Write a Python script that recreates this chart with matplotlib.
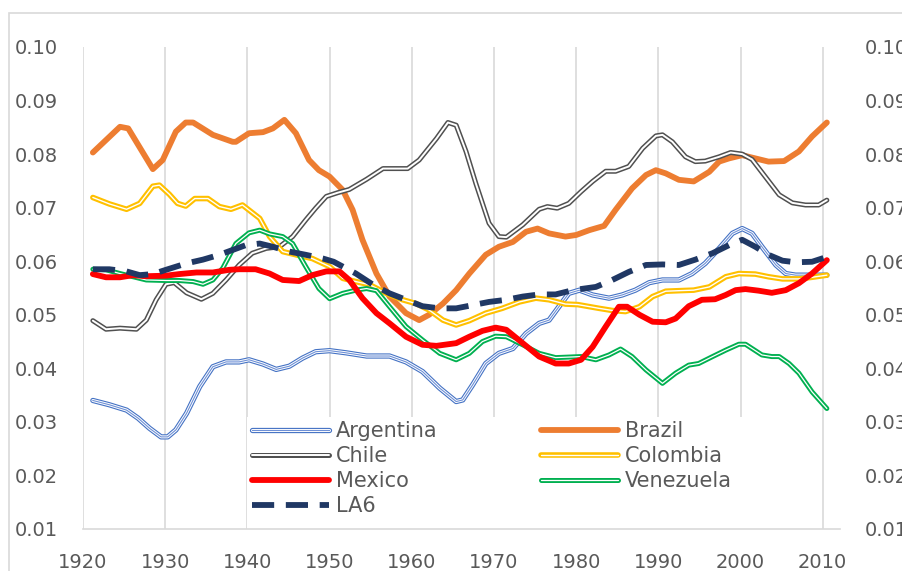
import matplotlib.pyplot as plt
from matplotlib.patches import Rectangle

# data (year, value)
arg_yr = [1921.2, 1923.2, 1925.3, 1926.7, 1928.1, 1929.5, 1930.3, 1931.3, 1932.6, 1934.2, 1935.8, 1937.4,
          1939.0, 1940.2, 1941.9, 1943.5, 1945.1, 1946.7, 1948.3, 1950.0, 1952.0, 1954.5, 1957.3, 1959.3,
          1961.3, 1963.4, 1965.4, 1966.2, 1967.4, 1969.0, 1970.6, 1972.3, 1973.9, 1975.5, 1976.7, 1977.9,
          1979.1, 1980.4, 1982.0, 1984.0, 1985.6, 1987.2, 1988.9, 1990.5, 1992.5, 1994.1, 1995.7, 1997.4,
          1999.0, 2000.2, 2001.4, 2002.6, 2004.3, 2005.5, 2006.7, 2008.7, 2010.5]
arg_val = [0.0340, 0.0332, 0.0322, 0.0307, 0.0288, 0.0272, 0.0272, 0.0285, 0.0316, 0.0366, 0.0403, 0.0412,
           0.0412, 0.0416, 0.0408, 0.0398, 0.0404, 0.0419, 0.0431, 0.0433, 0.0429, 0.0423, 0.0423, 0.0412,
           0.0394, 0.0363, 0.0338, 0.0341, 0.0369, 0.0409, 0.0428, 0.0437, 0.0465, 0.0484, 0.0490, 0.0515,
           0.0540, 0.0546, 0.0537, 0.0531, 0.0537, 0.0546, 0.0560, 0.0565, 0.0565, 0.0577, 0.0596, 0.0624,
           0.0652, 0.0661, 0.0652, 0.0627, 0.0593, 0.0577, 0.0574, 0.0574, 0.0574]

bra_yr = [1921.2, 1924.5, 1925.5, 1928.5, 1929.7, 1931.3, 1932.5, 1933.4, 1935.8, 1938.2, 1938.6, 1940.2,
          1941.9, 1943.1, 1944.5, 1945.9, 1947.5, 1948.7, 1950.0, 1951.6, 1952.8, 1954.0, 1955.7, 1957.3,
          1959.3, 1960.9, 1962.1, 1963.8, 1965.4, 1967.0, 1969.0, 1970.6, 1972.3, 1973.9, 1975.3, 1976.7,
          1978.7, 1980.0, 1981.6, 1983.4, 1984.8, 1986.8, 1988.5, 1989.7, 1990.9, 1992.5, 1994.3, 1996.2,
          1997.4, 1998.6, 2000.2, 2001.8, 2003.4, 2005.3, 2007.1, 2008.7, 2010.5]
bra_val = [0.0803, 0.0851, 0.0848, 0.0772, 0.0789, 0.0842, 0.0859, 0.0859, 0.0836, 0.0823, 0.0823, 0.0839,
           0.0841, 0.0848, 0.0864, 0.0839, 0.0789, 0.0770, 0.0758, 0.0733, 0.0696, 0.0640, 0.0577, 0.0534,
           0.0503, 0.0490, 0.0500, 0.0521, 0.0546, 0.0577, 0.0612, 0.0627, 0.0636, 0.0655, 0.0661, 0.0652,
           0.0646, 0.0649, 0.0658, 0.0666, 0.0696, 0.0736, 0.0761, 0.0770, 0.0764, 0.0752, 0.0749, 0.0767,
           0.0786, 0.0792, 0.0798, 0.0792, 0.0786, 0.0787, 0.0805, 0.0833, 0.0859]

chi_yr = [1921.2, 1922.8, 1924.5, 1926.5, 1927.7, 1928.9, 1930.1, 1931.1, 1932.6, 1934.4, 1935.8, 1937.4,
          1939.0, 1940.6, 1942.3, 1943.9, 1945.5, 1947.1, 1948.3, 1949.6, 1951.0, 1952.4, 1954.5, 1956.5,
          1958.1, 1959.5, 1960.9, 1963.0, 1964.4, 1965.4, 1966.6, 1967.8, 1969.4, 1970.6, 1971.5, 1973.5,
          1975.5, 1976.5, 1977.7, 1979.1, 1980.6, 1982.0, 1983.6, 1984.8, 1986.4, 1988.1, 1989.7, 1990.5,
          1991.7, 1993.3, 1994.5, 1995.7, 1997.4, 1998.8, 2000.2, 2001.4, 2003.0, 2004.7, 2006.3, 2007.9,
          2009.5, 2010.5]
chi_val = [0.0489, 0.0473, 0.0475, 0.0473, 0.0490, 0.0528, 0.0557, 0.0560, 0.0541, 0.0529, 0.0540, 0.0565,
           0.0593, 0.0615, 0.0624, 0.0627, 0.0646, 0.0677, 0.0699, 0.0721, 0.0728, 0.0734, 0.0753, 0.0773,
           0.0773, 0.0773, 0.0789, 0.0829, 0.0859, 0.0854, 0.0805, 0.0745, 0.0671, 0.0646, 0.0645, 0.0668,
           0.0697, 0.0702, 0.0699, 0.0708, 0.0730, 0.0749, 0.0768, 0.0768, 0.0777, 0.0811, 0.0834, 0.0836,
           0.0823, 0.0795, 0.0786, 0.0787, 0.0795, 0.0803, 0.0800, 0.0790, 0.0758, 0.0724, 0.0709, 0.0705,
           0.0705, 0.0714]

col_yr = [1921.2, 1923.2, 1925.3, 1926.9, 1928.5, 1929.3, 1930.5, 1931.5, 1932.5, 1933.6, 1935.2, 1936.6,
          1938.0, 1939.4, 1941.5, 1942.7, 1944.3, 1945.9, 1947.9, 1950.0, 1951.6, 1953.2, 1954.9, 1956.9,
          1958.9, 1960.5, 1962.1, 1963.8, 1965.4, 1967.0, 1969.0, 1971.0, 1973.1, 1975.1, 1976.7, 1978.7,
          1980.2, 1982.8, 1984.4, 1986.0, 1987.7, 1989.3, 1990.9, 1992.5, 1994.3, 1996.2, 1998.2, 1999.8,
          2001.8, 2003.4, 2005.1, 2007.1, 2008.7, 2010.5]
col_val = [0.0719, 0.0707, 0.0697, 0.0708, 0.0740, 0.0742, 0.0725, 0.0708, 0.0703, 0.0717, 0.0717, 0.0702,
           0.0697, 0.0705, 0.0680, 0.0646, 0.0618, 0.0612, 0.0605, 0.0590, 0.0568, 0.0562, 0.0556, 0.0540,
           0.0528, 0.0521, 0.0509, 0.0490, 0.0481, 0.0489, 0.0503, 0.0512, 0.0524, 0.0531, 0.0528, 0.0520,
           0.0519, 0.0512, 0.0508, 0.0506, 0.0515, 0.0534, 0.0544, 0.0545, 0.0546, 0.0552, 0.0571, 0.0577,
           0.0576, 0.0571, 0.0567, 0.0567, 0.0570, 0.0574]

mex_yr = [1921.2, 1922.8, 1924.5, 1926.1, 1927.7, 1930.1, 1931.7, 1933.8, 1935.8, 1937.8, 1939.0, 1941.0,
          1942.7, 1944.3, 1946.3, 1947.9, 1949.6, 1951.2, 1952.4, 1954.0, 1955.7, 1957.3, 1959.3, 1961.3,
          1963.0, 1965.4, 1967.0, 1968.6, 1970.2, 1971.5, 1973.5, 1975.5, 1977.5, 1979.1, 1980.6, 1982.0,
          1983.6, 1985.2, 1986.2, 1987.7, 1989.3, 1990.9, 1992.1, 1993.7, 1995.3, 1996.9, 1998.2, 1999.4,
          2000.6, 2002.2, 2003.8, 2005.5, 2007.1, 2008.7, 2010.5]
mex_val = [0.0576, 0.0570, 0.0570, 0.0574, 0.0572, 0.0573, 0.0576, 0.0579, 0.0579, 0.0584, 0.0585, 0.0585,
           0.0577, 0.0565, 0.0563, 0.0574, 0.0581, 0.0581, 0.0565, 0.0531, 0.0503, 0.0484, 0.0459, 0.0444,
           0.0442, 0.0447, 0.0459, 0.0470, 0.0476, 0.0472, 0.0447, 0.0422, 0.0409, 0.0409, 0.0416, 0.0440,
           0.0478, 0.0515, 0.0515, 0.0500, 0.0487, 0.0486, 0.0493, 0.0516, 0.0528, 0.0529, 0.0537, 0.0546,
           0.0548, 0.0545, 0.0541, 0.0546, 0.0559, 0.0577, 0.0602]

ven_yr = [1921.2, 1922.8, 1924.5, 1926.1, 1927.7, 1930.1, 1931.7, 1933.4, 1934.6, 1935.8, 1937.0, 1938.6,
          1940.2, 1941.5, 1942.7, 1944.3, 1945.5, 1947.1, 1948.7, 1950.0, 1951.6, 1953.2, 1954.5, 1955.7,
          1957.3, 1959.3, 1961.3, 1963.4, 1965.4, 1967.0, 1968.6, 1970.2, 1971.5, 1973.5, 1975.5, 1977.5,
          1979.1, 1980.6, 1982.4, 1984.0, 1985.4, 1986.8, 1988.5, 1990.5, 1992.1, 1993.7, 1994.9, 1996.6,
          1998.2, 1999.8, 2000.6, 2002.6, 2003.8, 2004.7, 2005.9, 2007.1, 2008.7, 2010.5]
ven_val = [0.0585, 0.0584, 0.0577, 0.0571, 0.0565, 0.0564, 0.0564, 0.0562, 0.0557, 0.0565, 0.0587, 0.0633,
           0.0653, 0.0658, 0.0651, 0.0646, 0.0633, 0.0590, 0.0549, 0.0530, 0.0540, 0.0546, 0.0549, 0.0545,
           0.0515, 0.0478, 0.0453, 0.0428, 0.0416, 0.0428, 0.0450, 0.0460, 0.0459, 0.0444, 0.0428, 0.0420,
           0.0421, 0.0422, 0.0416, 0.0425, 0.0436, 0.0422, 0.0397, 0.0372, 0.0391, 0.0406, 0.0409, 0.0422,
           0.0434, 0.0445, 0.0445, 0.0425, 0.0422, 0.0422, 0.0409, 0.0391, 0.0356, 0.0325]

la6_yr = [1921.2, 1923.2, 1925.3, 1926.9, 1928.5, 1930.1, 1932.6, 1934.6, 1936.6, 1938.2, 1939.8, 1941.5,
          1943.1, 1945.1, 1947.1, 1949.2, 1950.5, 1951.6, 1953.2, 1955.3, 1957.3, 1959.3, 1961.3, 1963.4,
          1965.4, 1967.4, 1969.4, 1971.5, 1973.5, 1975.5, 1977.5, 1979.6, 1982.4, 1984.4, 1986.4, 1988.5,
          1990.5, 1992.5, 1994.5, 1996.6, 1998.6, 2000.2, 2001.8, 2003.4, 2005.1, 2006.7, 2008.7, 2010.5]
la6_val = [0.0585, 0.0585, 0.0581, 0.0574, 0.0576, 0.0584, 0.0596, 0.0603, 0.0612, 0.0621, 0.0630, 0.0633,
           0.0627, 0.0618, 0.0612, 0.0605, 0.0599, 0.0590, 0.0577, 0.0556, 0.0540, 0.0528, 0.0516, 0.0512,
           0.0512, 0.0518, 0.0524, 0.0528, 0.0534, 0.0538, 0.0538, 0.0546, 0.0552, 0.0565, 0.0580, 0.0593,
           0.0594, 0.0593, 0.0603, 0.0615, 0.0630, 0.0640, 0.0627, 0.0612, 0.0601, 0.0598, 0.0599, 0.0608]

x_ticks = list(range(1920, 2011, 10))
y_ticks = [0.01, 0.02, 0.03, 0.04, 0.05, 0.06, 0.07, 0.08, 0.09, 0.10]

txt = '#595959'
grid_c = '#D9D9D9'
plt.rcParams['font.family'] = ['DejaVu Sans']

fig = plt.figure(figsize=(9.02, 5.71), dpi=100)
ax = fig.add_axes([83 / 902, 1 - 529 / 571, 757 / 902, 482 / 571])

# outer chart border (cut off at right / bottom like the original)
fig.patches.append(Rectangle((9 / 902, -0.2), 1.2, 1.2 - 13 / 571, transform=fig.transFigure,
                             facecolor='none', edgecolor=grid_c, lw=1.2))


def double(x, y, color, outer=3.8, inner=1.3, z=3):
    a, = ax.plot(x, y, color=color, lw=outer, solid_capstyle='round', zorder=z)
    b, = ax.plot(x, y, color='white', lw=inner, solid_capstyle='round', zorder=z)
    return (a, b)


h_arg = double(arg_yr, arg_val, '#4472C4', 3.8, 2.2, 3)
c, = ax.plot(arg_yr, arg_val, color='#6E90D6', lw=0.8, zorder=3)
h_arg = h_arg + (c,)
h_bra, = ax.plot(bra_yr, bra_val, color='#ED7D31', lw=4.2, solid_capstyle='round', zorder=3)
h_chi = double(chi_yr, chi_val, '#505050', 3.6, 1.4, 3)
h_col = double(col_yr, col_val, '#FFC000', 4.0, 1.0, 3)
h_mex, = ax.plot(mex_yr, mex_val, color='#FF0000', lw=4.2, solid_capstyle='round', zorder=4)
h_ven = double(ven_yr, ven_val, '#00B050', 3.6, 0.9, 3)
h_la6, = ax.plot(la6_yr, la6_val, color='#203864', lw=4.2, dashes=(3.8, 2.0), zorder=5)

ax.set_xlim(1920, 2012.1)
ax.set_ylim(0.01, 0.10)
ax.set_xticks(x_ticks)
ax.set_yticks(y_ticks)
ax.set_yticklabels([f'{v:.2f}' for v in y_ticks])
ax.grid(axis='x', color=grid_c, lw=1.2)
ax.set_axisbelow(True)
for s in ['top', 'right', 'left']:
    ax.spines[s].set_visible(False)
ax.spines['bottom'].set_color(grid_c)
ax.spines['bottom'].set_linewidth(1.2)
ax.tick_params(axis='both', length=0, labelsize=14, labelcolor=txt)
ax.tick_params(axis='y', pad=18)
ax.tick_params(axis='x', pad=17)

ax2 = ax.twinx()
ax2.set_ylim(0.01, 0.10)
ax2.set_yticks(y_ticks)
ax2.set_yticklabels([f'{v:.2f}' for v in y_ticks])
ax2.tick_params(axis='y', length=0, labelsize=14, labelcolor=txt, pad=18)
for s in ax2.spines.values():
    s.set_visible(False)

# white legend area hides the gridlines behind it
ax.add_patch(Rectangle(((247 - 83) / 757, 0), (790 - 247) / 757, (529 - 417) / 482,
                       transform=ax.transAxes, facecolor='white', edgecolor='none', zorder=1))

leg = ax2.legend([h_arg, h_chi, h_mex, h_la6, h_bra, h_col, h_ven],
                 ['Argentina', 'Chile', 'Mexico', 'LA6', 'Brazil', 'Colombia', 'Venezuela'],
                 ncol=2, frameon=False, fontsize=15, labelcolor=txt,
                 loc='upper left', bbox_to_anchor=(252 / 902, 1 - 421 / 571),
                 bbox_transform=fig.transFigure, handlelength=3.7, handletextpad=0.34,
                 columnspacing=4.95, labelspacing=0.24, borderpad=0.0, borderaxespad=0.0)

fig.savefig('out.png', dpi=100)
